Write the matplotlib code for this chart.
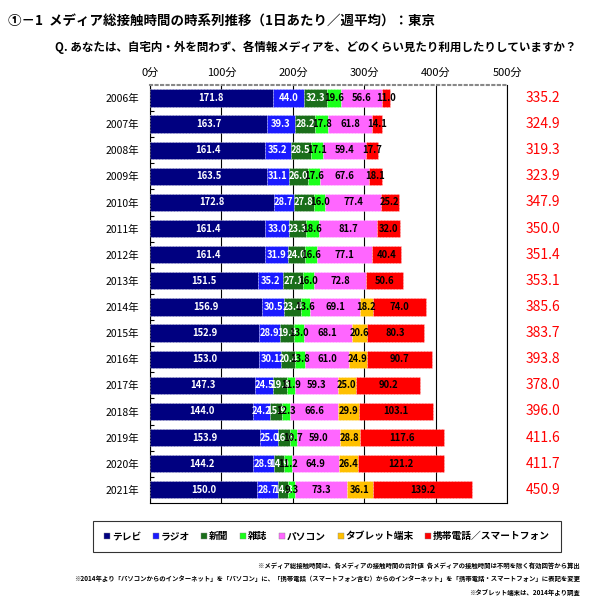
import matplotlib.pyplot as plt
import matplotlib
from matplotlib.lines import Line2D
from matplotlib.ticker import FixedLocator

matplotlib.rcParams['font.family'] = ['Noto Sans CJK JP', 'DejaVu Sans']
narrow = ['Liberation Sans Narrow', 'Noto Sans CJK JP', 'DejaVu Sans']

# data (minutes per day, weekly average)
years = ['2006年', '2007年', '2008年', '2009年', '2010年', '2011年', '2012年', '2013年',
         '2014年', '2015年', '2016年', '2017年', '2018年', '2019年', '2020年', '2021年']
tv = [171.8, 163.7, 161.4, 163.5, 172.8, 161.4, 161.4, 151.5,
      156.9, 152.9, 153.0, 147.3, 144.0, 153.9, 144.2, 150.0]
radio = [44.0, 39.3, 35.2, 31.1, 28.7, 33.0, 31.9, 35.2,
         30.5, 28.9, 30.1, 24.5, 24.2, 25.0, 28.9, 28.7]
newspaper = [32.3, 28.2, 28.5, 26.0, 27.8, 23.3, 24.0, 27.1,
             23.4, 19.9, 20.4, 19.8, 15.9, 16.6, 14.9, 14.3]
magazine = [19.6, 17.8, 17.1, 17.6, 16.0, 18.6, 16.6, 16.0,
            13.6, 13.0, 13.8, 11.9, 12.3, 10.7, 11.2, 9.3]
pc = [56.6, 61.8, 59.4, 67.6, 77.4, 81.7, 77.1, 72.8,
      69.1, 68.1, 61.0, 59.3, 66.6, 59.0, 64.9, 73.3]
tablet = [0, 0, 0, 0, 0, 0, 0, 0,
          18.2, 20.6, 24.9, 25.0, 29.9, 28.8, 26.4, 36.1]
mobile = [11.0, 14.1, 17.7, 18.1, 25.2, 32.0, 40.4, 50.6,
          74.0, 80.3, 90.7, 90.2, 103.1, 117.6, 121.2, 139.2]
totals = [335.2, 324.9, 319.3, 323.9, 347.9, 350.0, 351.4, 353.1,
          385.6, 383.7, 393.8, 378.0, 396.0, 411.6, 411.7, 450.9]

series = [tv, radio, newspaper, magazine, pc, tablet, mobile]
names = ['テレビ', 'ラジオ', '新聞', '雑誌', 'パソコン', 'タブレット端末', '携帯電話／スマートフォン']
colors = ['#000080', '#1a1aff', '#1a6e1a', '#1aff1a', '#ff66ff', '#ffc000', '#ff0000']
textcol = ['white', 'white', 'white', 'black', 'black', 'black', 'black']

fig = plt.figure(figsize=(6, 5.98), dpi=100)
ax = fig.add_axes([0.25, 0.159, 0.5958, 0.699])

ypos = list(range(len(years)))
left = [0.0] * len(years)
for vals, c, tc in zip(series, colors, textcol):
    ax.barh(ypos, vals, left=left, height=0.66, color=c, edgecolor='white',
            linewidth=0.4, linestyle=':', zorder=3)
    for i, v in enumerate(vals):
        if v > 0:
            ax.text(left[i] + v / 2, i, f'{v:.1f}', ha='center', va='center',
                    fontsize=6.8, color=tc, fontweight='bold', family=narrow, zorder=4)
    left = [l + v for l, v in zip(left, vals)]

for i, t in enumerate(totals):
    ax.text(1.052, i, f'{t:.1f}', transform=ax.get_yaxis_transform(),
            ha='left', va='center', fontsize=10, color='#ff0000', family=narrow)

ax.set_xlim(0, 500)
ax.set_ylim(len(years) - 0.5, -0.5)
ax.set_xticks([0, 100, 200, 300, 400, 500])
ax.set_xticklabels(['0分', '100分', '200分', '300分', '400分', '500分'], fontsize=8)
ax.xaxis.tick_top()
ax.tick_params(axis='x', length=0, pad=5)
ax.set_yticks(ypos)
ax.set_yticklabels(years, fontsize=7.5)
ax.tick_params(axis='y', which='major', length=0, pad=8)
ax.yaxis.set_minor_locator(FixedLocator([i + 0.5 for i in range(len(years) - 1)]))
ax.tick_params(axis='y', which='minor', direction='in', length=3, width=0.8)
ax.grid(axis='x', color='black', linewidth=0.8, zorder=0)
for s in ['left', 'right', 'bottom']:
    ax.spines[s].set_color('black')
    ax.spines[s].set_linewidth(0.8)
ax.spines['top'].set_color('#888888')
ax.spines['top'].set_linestyle(':')
ax.spines['top'].set_linewidth(1.5)

fig.text(0.013, 0.963, '①－1  メディア総接触時間の時系列推移（1日あたり／週平均）：東京',
         fontsize=9.7, fontweight='bold', va='center')
fig.text(0.092, 0.921, 'Q. あなたは、自宅内・外を問わず、各情報メディアを、どのくらい見たり利用したりしていますか？',
         fontsize=8.3, fontweight='bold', va='center')

handles = [Line2D([], [], marker='s', linestyle='', markersize=4, color=c,
                  markeredgecolor='#888888', markeredgewidth=0.3) for c in colors]
leg = fig.legend(handles, names, loc='center', bbox_to_anchor=(0.545, 0.103), ncol=7,
                 frameon=True, fancybox=False, edgecolor='black',
                 handlelength=0.6, handletextpad=0.2, columnspacing=1.2,
                 borderpad=1.1, prop={'weight': 'bold', 'size': 7})
leg.get_frame().set_linewidth(0.8)

notes = ['※メディア総接触時間は、各メディアの接触時間の合計値  各メディアの接触時間は不明を除く有効回答から算出',
         '※2014年より「パソコンからのインターネット」を「パソコン」に、「携帯電話（スマートフォン含む）からのインターネット」を「携帯電話・スマートフォン」に表記を変更',
         '※タブレット端末は、2014年より調査']
for k, n in enumerate(notes):
    fig.text(0.967, 0.055 - k * 0.0225, n, ha='right', va='center', fontsize=4.6, fontweight='bold')

fig.savefig('out.png', dpi=100)
